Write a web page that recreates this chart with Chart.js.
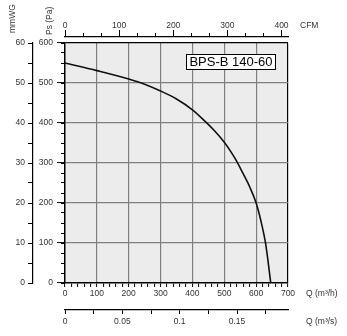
<!DOCTYPE html>
<html>
<head>
<meta charset="utf-8">
<script src="https://cdn.jsdelivr.net/npm/chart.js@4/dist/chart.umd.min.js"></script>
<style>
  html, body { margin: 0; padding: 0; background: #fff; }
  #wrap { position: relative; width: 347px; height: 336px; }
</style>
</head>
<body>
<div id="wrap"><canvas id="fan"></canvas></div>
<script>
// fan curve: static pressure (Pa) vs flow (m³/h)
const flowM3h = [0, 100, 200, 250, 300, 350, 400, 440, 470, 500, 520, 540, 560, 580, 600, 615, 630, 646];
const pressurePa = [550, 531, 510, 497, 480, 460, 433, 404, 380, 352, 329, 303, 272, 240, 200, 155, 97, 0];

const modelName = 'BPS-B 140-60';
const flowMax = 700;          // m³/h
const pressureMax = 600;      // Pa
const mmwgMax = 60;           // mmWG
const cfmPerM3h = 0.58858;
const m3sPerM3h = 1 / 3600;

const font = { family: "'Liberation Sans', Arial, sans-serif", size: 8.5 };
const labelColor = '#333';
const gridGray = '#808080';

const near = (v, step) => Math.abs(v / step - Math.round(v / step)) < 1e-6;
const fixW = w => s => { s.width = w; };
const fixH = h => s => { s.height = h; };

function gridColor(max) {
  return c => {
    const v = c.tick ? c.tick.value : null;
    if (v == null || v === 0) return 'rgba(0,0,0,0)';
    if (Math.abs(v - max) < 1e-6) return '#000';
    return near(v, 100) ? gridGray : 'rgba(0,0,0,0)';
  };
}

const extras = {
  id: 'extras',
  beforeDraw(chart) {
    const { ctx, chartArea: a } = chart;
    ctx.save();
    ctx.fillStyle = '#ececec';
    ctx.fillRect(a.left, a.top, a.right - a.left, a.bottom - a.top);
    ctx.restore();
  },
  afterDraw(chart) {
    const { ctx, chartArea: a } = chart;
    ctx.save();
    ctx.fillStyle = labelColor;
    ctx.font = `${font.size}px ${font.family}`;
    ctx.textBaseline = 'middle';
    ctx.textAlign = 'left';
    ctx.fillText('CFM', a.right + 12, 26);
    ctx.fillText('Q (m³/h)', a.right + 18, 294);
    ctx.fillText('Q (m³/s)', a.right + 18, 322);

    ctx.translate(13, 33);
    ctx.rotate(-Math.PI / 2);
    ctx.fillText('mmWG', 0, 0);
    ctx.rotate(Math.PI / 2);
    ctx.translate(36.5, 2);
    ctx.rotate(-Math.PI / 2);
    ctx.fillText('Ps (Pa)', 0, 0);
    ctx.restore();

    // model name box
    ctx.save();
    ctx.fillStyle = '#fff';
    ctx.fillRect(186, 54, 90, 16);
    ctx.strokeStyle = '#000';
    ctx.lineWidth = 1;
    ctx.strokeRect(186.5, 54.5, 89, 15);
    ctx.fillStyle = '#000';
    ctx.font = `13px ${font.family}`;
    ctx.textAlign = 'center';
    ctx.textBaseline = 'middle';
    ctx.fillText(modelName, 231, 62.5);
    ctx.restore();
  }
};

new Chart(document.getElementById('fan'), {
  type: 'line',
  data: {
    datasets: [{
      data: flowM3h.map((q, i) => ({ x: q, y: pressurePa[i] })),
      borderColor: '#111',
      borderWidth: 1.6,
      pointRadius: 0,
      cubicInterpolationMode: 'monotone',
      fill: false,
      xAxisID: 'x',
      yAxisID: 'y'
    }]
  },
  options: {
    responsive: true,
    maintainAspectRatio: false,
    animation: false,
    layout: { padding: { left: 0, right: 59, top: 0, bottom: 0 } },
    plugins: { legend: { display: false }, tooltip: { enabled: false } },
    scales: {
      x: {
        type: 'linear', position: 'bottom', weight: 1, min: 0, max: flowMax,
        afterFit: fixH(27),
        grid: { color: gridColor(flowMax), lineWidth: 1.2, tickLength: 4, tickColor: '#000', tickWidth: 1 },
        border: { display: true, color: '#000', width: 1.5 },
        ticks: { stepSize: 20, autoSkip: false, maxRotation: 0, padding: 2, color: labelColor, font,
                 callback: v => near(v, 100) ? Math.round(v) : '' }
      },
      qs: {
        type: 'linear', position: 'bottom', weight: 2, min: 0, max: flowMax * m3sPerM3h,
        afterFit: fixH(26),
        grid: { drawOnChartArea: false, tickLength: 4, tickColor: '#000', tickWidth: 1 },
        border: { display: true, color: '#000', width: 1.2 },
        ticks: { stepSize: 0.025, includeBounds: false, autoSkip: false, maxRotation: 0, padding: 3, color: labelColor, font,
                 callback: v => near(v, 0.05) ? String(+v.toFixed(3)) : '' }
      },
      cfm: {
        type: 'linear', position: 'top', weight: 3, min: 0, max: flowMax * cfmPerM3h,
        afterFit: fixH(37),
        grid: { drawOnChartArea: false, tickLength: 7, tickColor: '#000', tickWidth: 1 },
        border: { display: true, color: '#000', width: 1.2 },
        ticks: { stepSize: 100, includeBounds: false, autoSkip: false, maxRotation: 0, padding: -1, color: labelColor, font,
                 callback: v => Math.round(v) }
      },
      cfmMinor: {
        type: 'linear', position: 'top', weight: 2, min: 0, max: flowMax * cfmPerM3h,
        afterFit: fixH(0),
        grid: { drawOnChartArea: false, tickLength: 4, tickColor: '#000', tickWidth: 1 },
        border: { display: false },
        ticks: { stepSize: 100 / 3, includeBounds: false, autoSkip: false, maxRotation: 0, font, callback: () => '' }
      },
      gap: {
        type: 'linear', position: 'top', weight: 1, min: 0, max: 1,
        afterFit: fixH(6),
        grid: { display: false }, border: { display: false }, ticks: { display: false }
      },
      y: {
        type: 'linear', position: 'left', weight: 2, min: 0, max: pressureMax,
        afterFit: fixW(32),
        grid: { color: gridColor(pressureMax), lineWidth: 1.2, tickLength: 8, tickColor: '#000', tickWidth: 1 },
        border: { display: true, color: '#000', width: 1.5 },
        ticks: { stepSize: 100, autoSkip: false, padding: 4, color: labelColor, font }
      },
      paMinor: {
        type: 'linear', position: 'left', weight: 1, min: 0, max: pressureMax,
        afterFit: fixW(0),
        grid: { drawOnChartArea: false, tickLength: 4, tickColor: '#000', tickWidth: 1 },
        border: { display: false },
        ticks: { stepSize: 25, autoSkip: false, font, callback: () => '' }
      },
      mmwg: {
        type: 'linear', position: 'left', weight: 3, min: 0, max: mmwgMax,
        afterFit: fixW(33),
        grid: { drawOnChartArea: false, tickLength: 5, tickColor: '#000', tickWidth: 1 },
        border: { display: true, color: '#000', width: 1.2 },
        ticks: { stepSize: 5, autoSkip: false, padding: 3, color: labelColor, font,
                 callback: v => near(v, 10) ? Math.round(v) : '' }
      }
    }
  },
  plugins: [extras]
});
</script>
</body>
</html>
